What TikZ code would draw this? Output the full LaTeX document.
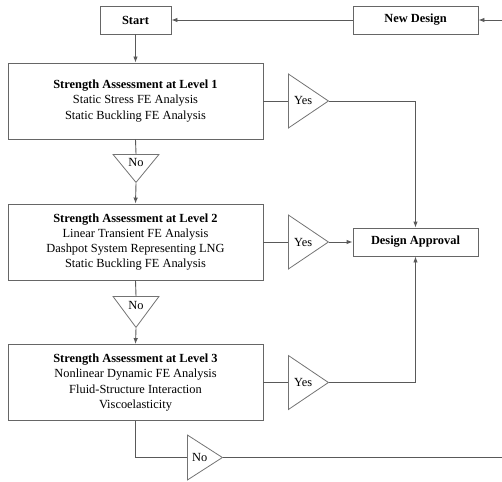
\documentclass[tikz,border=0pt]{standalone}
\usepackage{fontspec}
\setmainfont{Liberation Serif}
\usetikzlibrary{shapes.geometric,arrows.meta}

\begin{document}
\begin{tikzpicture}[x=1pt,y=1pt]

    % Define some common styles
    \tikzset{
        box/.style={draw=black!60, line width=0.9pt, minimum height=28pt, inner sep=0pt, align=center, font=\fontsize{12.4}{15.2}\selectfont},
        levelbox/.style={box, minimum width=255pt, minimum height=76pt},
        decision/.style={draw=black!55, line width=0.8pt, isosceles triangle, isosceles triangle stretches, inner sep=0pt, anchor=lower side, font=\fontsize{12.4}{15}\selectfont},
        flow/.style={draw=black!65, line width=0.9pt},
        arrow/.style={flow, -{Latex[length=6pt,width=4.5pt]}}
    }

    % Fix the picture size
    \useasboundingbox (0,0) rectangle (502,-481);

    % Start and new design
    \node[box, minimum width=71pt] (start) at (135.5,-20) {\textbf{Start}};
    \node[box, minimum width=125pt] (newdesign) at (415.5,-20) {\textbf{New Design}};
    \coordinate (inlet) at (502,-20);

    % Assessment levels
    \node[levelbox] (level1) at (135.5,-101) {\textbf{Strength Assessment at Level 1}\\Static Stress FE Analysis\\Static Buckling FE Analysis};
    \node[levelbox] (level2) at (135.5,-242) {\textbf{Strength Assessment at Level 2}\\Linear Transient FE Analysis\\Dashpot System Representing LNG\\Static Buckling FE Analysis};
    \node[levelbox] (level3) at (135.5,-382.5) {\textbf{Strength Assessment at Level 3}\\Nonlinear Dynamic FE Analysis\\Fluid-Structure Interaction\\Viscoelasticity};

    % Approval
    \node[box, minimum width=125pt] (approval) at (415.5,-242) {\textbf{Design Approval}};

    % Yes / No decisions (base midpoint placed)
    \node[decision, minimum width=54pt, minimum height=40pt] (yes1) at (288,-101) {Yes};
    \node[decision, minimum width=54pt, minimum height=40pt] (yes2) at (288,-242) {Yes};
    \node[decision, minimum width=54pt, minimum height=40pt] (yes3) at (288,-382.5) {Yes};
    \node[decision, shape border rotate=270, minimum width=46pt, minimum height=28pt] (no1) at (136,-154) {No};
    \node[decision, shape border rotate=270, minimum width=46pt, minimum height=31pt] (no2) at (136,-296) {No};
    \node[decision, minimum width=45pt, minimum height=35pt] (no3) at (187,-457.5) {No};
    \coordinate (outlet) at (502,-457.5);

    % Connectors
    \draw[arrow] (inlet) -- (newdesign);
    \draw[arrow] (newdesign) -- (start);
    \draw[arrow] (start) -- (level1);
    \draw[flow] (level1.east) -- (yes1.lower side);
    \draw[arrow] (yes1.apex) -| (approval.north);
    \draw[flow] (level1.south) -- (no1.lower side);
    \draw[arrow] (no1.apex) -- (level2.north);
    \draw[flow] (level2.east) -- (yes2.lower side);
    \draw[arrow] (yes2.apex) -- (approval.west);
    \draw[flow] (level2.south) -- (no2.lower side);
    \draw[arrow] (no2.apex) -- (level3.north);
    \draw[flow] (level3.east) -- (yes3.lower side);
    \draw[arrow] (yes3.apex) -| (approval.south);
    \draw[flow] (level3.south) |- (no3.lower side);
    \draw[flow] (no3.apex) -- (outlet);

\end{tikzpicture}
\end{document}
